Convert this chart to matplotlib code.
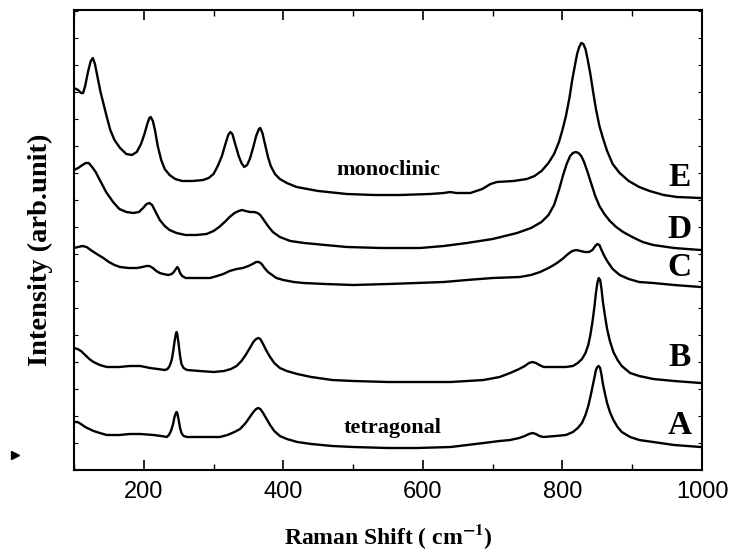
import matplotlib
matplotlib.use("Agg")
import matplotlib.pyplot as plt
from matplotlib.ticker import MultipleLocator, NullFormatter

plt.rcParams["mathtext.fontset"] = "stix"

# ---- data (Raman shift in cm^-1, intensity in arbitrary units, offset stacked) ----
E_x = [100,106,110,113,116,120,124,127,130,134,138,142,147,152,158,166,175,183,190,196,201,205,208,210,213,216,220,225,230,237,245,255,270,285,293,300,306,312,317,321,324,327,331,336,340,344,348,352,357,361,365,367,370,374,378,382,388,395,405,419,450,491,530,567,610,630,639,648,668,685,697,706,730,749,760,770,780,788,795,800,805,810,814,818,821,824,827,830,833,836,840,844,848,853,858,864,872,882,895,910,925,945,964,998]
E_y = [382,380,377,377,384,398,409,412,406,392,378,367,353,340,330,322,316,315,318,326,336,346,352,353,349,340,324,310,301,295,291,289,289,290,292,296,304,314,326,335,338,336,326,314,307,303,305,311,323,334,341,342,337,325,313,304,296,291,287,283,279,276,275,275,276,277,278,277,277,281,286,288,289,291,294,299,307,316,328,340,354,372,390,405,416,423,427,426,421,411,396,378,361,344,332,319,306,297,289,283,279,275,273,272]

D_x = [100,106,112,117,121,126,131,137,146,156,165,175,185,193,199,204,208,212,217,223,230,237,247,260,275,290,300,308,316,323,330,336,341,346,352,358,363,367,372,378,385,395,410,430,460,491,540,596,630,663,700,735,755,770,780,788,795,801,806,811,815,819,823,827,831,836,841,847,853,860,868,877,887,900,915,930,960,998]
D_y = [300,302,305,307,307,303,298,290,278,268,261,258,257,258,262,266,267,265,258,250,244,240,237,235,235,236,239,243,248,253,257,259,260,259,258,258,257,255,250,244,238,233,229,227,225,223,222,222,224,227,231,237,242,248,255,265,280,295,306,314,317,318,317,314,308,298,287,274,264,256,249,243,238,233,228,225,222,220]

C_x = [100,106,112,118,126,135,142,150,158,166,178,190,198,204,208,213,218,223,228,235,240,243,246,248,250,252,255,260,271,295,305,314,323,333,342,350,356,361,365,369,373,378,384,390,400,415,429,460,500,550,591,630,663,700,739,755,768,780,790,800,808,814,820,826,832,838,843,847,850,853,856,860,865,872,882,895,910,930,960,998]
C_y = [222,223,224,223,219,215,212,208,205,203,202,202,203,204,204,202,199,197,196,195,196,198,201,203,201,197,194,192,192,192,194,196,199,201,202,204,206,208,208,206,202,198,195,192,190,188,187,186,185,186,187,188,190,192,193,195,198,202,206,211,216,219,220,219,218,218,220,224,226,225,220,214,208,201,195,191,188,187,185,183]

B_x = [100,105,110,116,122,128,137,147,165,180,195,209,220,230,234,237,240,242,244,246,247,248,250,252,254,257,262,280,300,315,325,333,340,346,352,357,361,364,367,371,376,381,387,395,405,420,440,470,500,550,591,640,687,710,725,738,746,752,757,762,767,773,790,805,815,822,828,833,837,840,843,846,848,850,852,854,856,858,861,864,868,873,879,885,897,910,930,960,998]
B_y = [122,121,119,115,111,108,105,103,103,104,104,102,101,100,101,104,110,118,128,136,138,136,126,114,106,102,100,99,98,99,101,104,109,115,122,128,131,132,131,126,119,113,107,102,99,96,93,90,89,88,88,88,90,93,97,101,104,107,108,107,105,103,103,103,104,107,111,117,125,135,148,164,177,187,192,190,181,168,154,141,129,118,110,104,97,94,91,89,87]

A_x = [100,105,110,116,122,128,137,147,165,180,195,214,225,233,236,239,242,244,246,247,248,250,252,254,257,262,290,309,320,330,338,346,352,357,361,364,367,371,376,381,387,395,405,420,440,470,500,550,591,640,687,710,725,738,746,752,757,762,767,773,790,805,815,822,828,833,837,840,843,846,848,850,852,854,856,858,861,864,868,873,879,885,897,910,930,960,998]
A_y = [48,48,46,43,41,39,37,35,35,36,36,35,34,33,35,39,46,53,57,58,57,50,42,37,34,33,33,33,35,38,41,47,53,58,61,62,61,57,51,45,39,34,31,28,26,24,23,22,22,23,27,29,30,32,34,36,37,36,34,33,34,35,38,42,47,55,64,73,83,93,100,103,104,102,95,86,76,67,58,50,43,38,33,30,28,25,23]

series = [("A", A_x, A_y), ("B", B_x, B_y), ("C", C_x, C_y), ("D", D_x, D_y), ("E", E_x, E_y)]
label_pos = {"E": 293, "D": 240, "C": 202, "B": 113, "A": 45}
phase_labels = [("monoclinic", 551, 300), ("tetragonal", 556, 42)]
x_ticks = [200, 400, 600, 800, 1000]

serif = "Liberation Serif"
sans = "Liberation Sans"

fig = plt.figure(figsize=(7.33, 5.54), dpi=100)
ax = fig.add_axes([74/733, 84/554, 628/733, 460/554])

for name, xs, ys in series:
    ax.plot(xs, ys, color="black", lw=1.7, solid_joinstyle="round", solid_capstyle="round")

for name, yv in label_pos.items():
    ax.text(968, yv, name, fontsize=24, fontweight="bold", family=serif,
            ha="center", va="center")
for txt, xv, yv in phase_labels:
    ax.text(xv, yv, txt, fontsize=16, fontweight="bold", family=serif,
            ha="center", va="center")

ax.set_xlim(100, 1000)
ax.set_ylim(0, 460)
ax.set_xticks(x_ticks)
ax.xaxis.set_minor_locator(MultipleLocator(100))
ax.yaxis.set_major_locator(MultipleLocator(27))
ax.yaxis.set_major_formatter(NullFormatter())
ax.tick_params(axis="both", which="both", direction="in", top=True, right=True)
ax.tick_params(axis="x", which="major", length=7, width=1.2, labelsize=17, pad=8)
ax.tick_params(axis="x", which="minor", length=4, width=1.0)
ax.tick_params(axis="y", which="major", length=3, width=0.8)
for lab in ax.get_xticklabels():
    lab.set_family(sans)
for sp in ax.spines.values():
    sp.set_linewidth(1.5)

ax.set_xlabel("Raman Shift ( cm$^{\\mathbf{-1}}$)", fontsize=17, fontweight="bold",
              family=serif, labelpad=14)
ax.set_ylabel("Intensity (arb.unit)", fontsize=20.5, fontweight="bold",
              family=serif, va="center")
ax.yaxis.set_label_coords(-0.054, 0.478)

fig.lines.append(plt.Line2D([15/733], [1 - 455/554], marker=">", color="black",
                            markersize=6, transform=fig.transFigure))

fig.savefig("out.png", dpi=100)
